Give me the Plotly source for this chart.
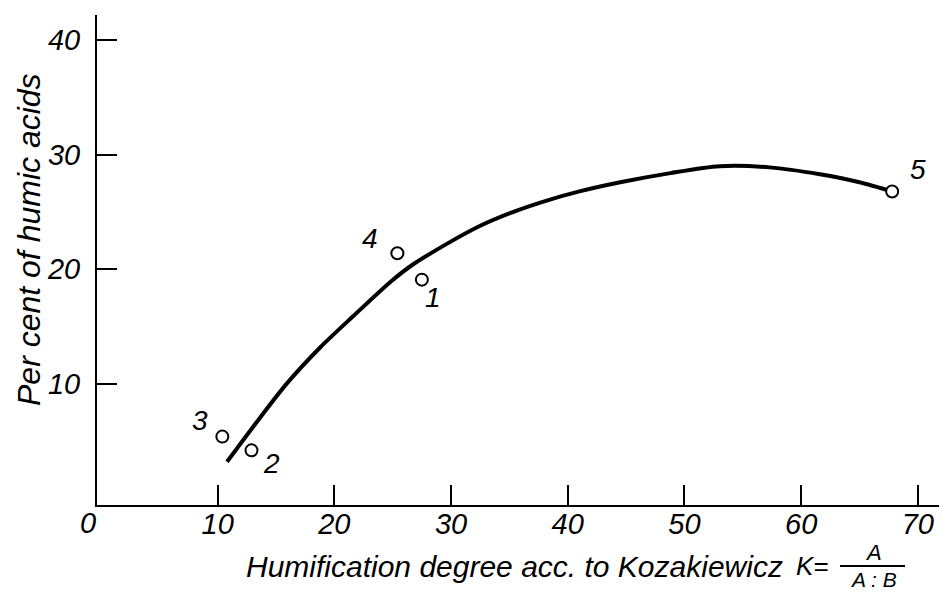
import plotly.graph_objects as go

# fitted curve
curve_x = [10.8, 13.0, 15.9, 18.8, 21.6, 24.8, 26.7, 29.6, 32.5, 35.3, 38.2, 41.0,
           44.5, 48.8, 53.0, 57.3, 61.6, 65.0, 67.8]
curve_y = [3.2, 6.2, 10.0, 13.2, 15.9, 18.9, 20.4, 22.2, 23.8, 25.0, 26.0, 26.8,
           27.6, 28.4, 29.0, 28.9, 28.3, 27.6, 26.8]

# measured samples
sample_labels = ["1", "2", "3", "4", "5"]
sample_x = [27.5, 12.9, 10.4, 25.4, 67.8]
sample_y = [19.1, 4.2, 5.4, 21.4, 26.8]

x_ticks = [10, 20, 30, 40, 50, 60, 70]
y_ticks = [10, 20, 30, 40]

# label offsets in pixels (styling)
label_dx = [11, 20, -22, -27, 26]
label_dy = [-18, -13, 16, 15, 22]

FONT = "Liberation Sans"
OFF = 8  # default page body margin
W, H = 947 - OFF, 592 - OFF
L, R, T, B = 97 - OFF, 0, 15 - OFF, 87
PW, PH = W - L - R, H - T - B

def px(xs):
    return (xs - OFF - L) / PW

def py(ys):
    return (OFF + H - B - ys) / PH

def ann(x, y, text, size, **kw):
    fig.add_annotation(x=px(x), y=py(y), xref="paper", yref="paper", text=text,
                       showarrow=False, xanchor="center", yanchor="middle",
                       font=dict(family=FONT, size=size, color="black", style="italic"),
                       **kw)

fig = go.Figure()
fig.add_trace(go.Scatter(
    x=curve_x, y=curve_y, mode="lines",
    line=dict(color="black", width=4, shape="spline", smoothing=0.8),
    hoverinfo="skip", showlegend=False))
fig.add_trace(go.Scatter(
    x=sample_x, y=sample_y, mode="markers",
    marker=dict(symbol="circle", size=12, color="white",
                line=dict(color="black", width=2)),
    showlegend=False))

for lab, x, y, dx, dy in zip(sample_labels, sample_x, sample_y, label_dx, label_dy):
    fig.add_annotation(x=x, y=y, xref="x", yref="y", text=lab, showarrow=False,
                       xanchor="center", yanchor="middle",
                       xshift=dx, yshift=dy,
                       font=dict(family=FONT, size=28, color="black", style="italic"))

# origin label
ann(88, 523, "0", 29)

# axis titles
ann(514, 566, "Humification degree acc. to Kozakiewicz", 30)
ann(812, 566, "K=", 26)
ann(873, 552, "A", 22)
ann(873, 579, "A : B", 21)
fig.add_shape(type="line", xref="paper", yref="paper",
              x0=px(840), x1=px(905), y0=py(566), y1=py(566),
              line=dict(color="black", width=2))
ann(29, 240, "Per cent of humic acids", 32, textangle=-90)

axis_common = dict(showline=True, linecolor="black", linewidth=2,
                   ticks="inside", ticklen=20, tickwidth=2, tickcolor="black",
                   showgrid=False, zeroline=False, automargin=False,
                   tickfont=dict(family=FONT, size=29, color="black", style="italic"))

fig.update_layout(
    width=W, height=H,
    margin=dict(l=L, r=R, t=T, b=B, pad=0),
    paper_bgcolor="white", plot_bgcolor="white",
    xaxis=dict(range=[-0.34, 72.5], tickvals=x_ticks, ticklabelstandoff=-8,
               ticktext=[str(v) for v in x_ticks], **axis_common),
    yaxis=dict(range=[-0.57, 42.2], tickvals=y_ticks, ticklabelstandoff=9,
               ticktext=[str(v) for v in y_ticks], **axis_common),
)

fig.write_html("out.html")
